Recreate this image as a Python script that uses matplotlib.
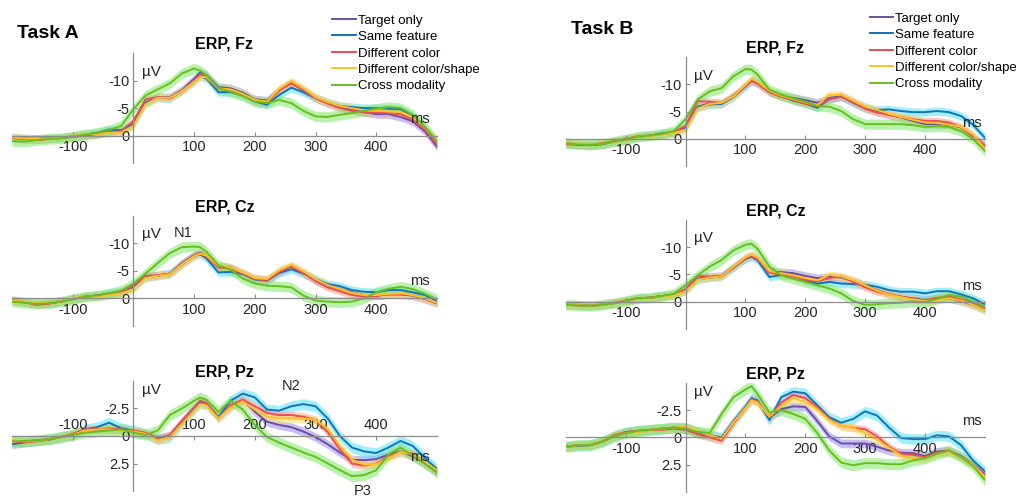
"""
ERP waveforms, Task A vs Task B, at Fz / Cz / Pz (negative up, MATLAB-style origin axes).
"""
import numpy as np
import matplotlib
matplotlib.use("Agg")
import matplotlib.pyplot as plt

plt.rcParams['font.family'] = ['Liberation Sans', 'DejaVu Sans']
plt.rcParams['axes.unicode_minus'] = False

# ── data ──────────────────────────────────────────────────────────────────
times = [-200, -180, -160, -140, -120, -100, -80, -60, -40, -20, 0, 20, 40, 60, 80,
         100, 110, 120, 140, 160, 180, 200, 220, 240, 260, 280, 300, 320, 340, 360,
         380, 400, 420, 440, 460, 480, 500]

conditions = ["Target only", "Same feature", "Different color",
              "Different color/shape", "Cross modality"]

# Task A, Fz
fz_a_target = [0.3, 0.5, 0.6, 0.5, 0.4, 0.1, -0.2, -0.3, -0.7, -0.9, -2.1, -6.0, -7.0, -7.0, -8.3, -10.3, -11.5, -11.0, -8.8, -8.6, -7.8, -6.6, -6.4, -8.3, -9.6, -8.2, -6.9, -6.0, -5.3, -4.8, -4.3, -3.9, -3.9, -3.4, -2.6, -0.8, 2.0]
fz_a_same = [0.4, 0.6, 0.6, 0.5, 0.4, 0.2, -0.2, -0.5, -1.1, -1.0, -2.0, -5.9, -6.9, -6.8, -8.1, -9.8, -10.8, -10.4, -7.9, -7.9, -7.3, -6.2, -5.6, -7.4, -8.7, -7.9, -6.8, -5.9, -5.4, -5.2, -5.0, -5.0, -4.9, -4.8, -3.6, -1.6, 1.2]
fz_a_color = [0.4, 0.6, 0.8, 0.6, 0.4, 0.2, 0.0, -0.3, -0.6, -0.8, -2.7, -6.6, -7.0, -6.8, -8.2, -10.0, -11.0, -10.7, -8.5, -8.3, -7.5, -6.4, -6.0, -8.2, -9.5, -8.3, -6.8, -5.8, -5.0, -4.5, -4.2, -4.2, -4.1, -3.9, -2.9, -1.1, 1.6]
fz_a_shape = [0.3, 0.5, 0.6, 0.5, 0.4, 0.1, -0.3, -0.3, -0.5, -0.6, -1.8, -5.7, -6.9, -6.9, -8.1, -9.8, -10.7, -10.6, -8.6, -8.4, -7.6, -6.5, -6.2, -8.5, -9.9, -8.6, -7.0, -6.1, -5.4, -5.0, -4.6, -4.5, -4.4, -4.3, -3.4, -1.6, 1.0]
fz_a_cross = [1.0, 1.1, 0.8, 0.6, 0.5, 0.2, -0.2, -0.5, -1.0, -1.8, -4.8, -7.3, -8.4, -9.5, -11.3, -12.2, -11.8, -11.0, -8.6, -8.0, -7.2, -6.2, -5.9, -6.5, -5.9, -4.5, -3.5, -3.4, -3.8, -4.1, -4.5, -4.9, -5.2, -5.0, -3.8, -1.6, 1.0]

# Task A, Cz
cz_a_target = [0.3, 0.6, 1.0, 0.9, 0.6, 0.1, -0.3, -0.5, -0.8, -1.1, -2.0, -3.9, -4.2, -4.5, -6.4, -7.9, -8.3, -7.7, -5.8, -5.6, -4.6, -3.6, -3.3, -4.8, -5.8, -4.6, -3.3, -2.3, -1.7, -1.1, -0.6, -0.5, -0.7, -0.7, -0.5, 0.1, 0.9]
cz_a_same = [0.4, 0.7, 1.0, 0.8, 0.5, 0.1, -0.3, -0.5, -0.9, -1.2, -2.0, -3.8, -4.1, -4.5, -6.2, -7.7, -8.0, -7.3, -4.7, -4.8, -4.4, -3.4, -3.2, -4.6, -5.3, -4.5, -3.5, -2.6, -2.2, -1.5, -1.2, -1.1, -1.5, -1.5, -1.1, -0.6, 0.5]
cz_a_color = [0.4, 0.7, 1.2, 1.0, 0.6, 0.1, -0.3, -0.5, -0.7, -1.0, -2.4, -4.1, -4.2, -4.4, -6.2, -7.8, -8.2, -7.6, -5.6, -5.4, -4.5, -3.5, -3.3, -4.8, -5.8, -4.6, -3.1, -2.0, -1.3, -0.6, -0.3, -0.4, -0.8, -0.8, -0.6, 0.1, 0.9]
cz_a_shape = [0.3, 0.6, 0.9, 0.8, 0.5, 0.0, -0.3, -0.4, -0.6, -0.9, -1.7, -3.7, -4.1, -4.4, -6.2, -7.7, -8.1, -7.8, -5.9, -5.6, -4.7, -3.7, -3.5, -5.1, -6.1, -4.9, -3.5, -2.4, -1.7, -1.0, -0.6, -0.6, -0.8, -0.9, -0.6, 0.0, 0.8]
cz_a_cross = [0.6, 0.8, 1.0, 0.9, 0.6, 0.2, -0.3, -0.5, -0.9, -1.4, -2.7, -4.5, -6.4, -8.2, -9.3, -9.4, -9.3, -8.5, -6.0, -5.2, -3.6, -2.7, -2.3, -2.2, -2.0, -0.5, 0.4, 0.6, 0.7, 0.6, 0.0, -1.1, -1.7, -2.1, -1.7, -0.8, 0.2]

# Task A, Pz
pz_a_target = [0.75, 0.6, 0.45, 0.35, 0.1, -0.1, -0.6, -0.6, -0.6, -0.6, -0.4, -0.2, 0.3, 0.0, -1.3, -2.5, -3.1, -3.0, -1.7, -2.7, -3.3, -2.2, -1.3, -1.0, -0.8, -0.4, 0.1, 0.75, 1.5, 2.15, 2.2, 2.1, 1.7, 1.4, 1.85, 2.5, 3.3]
pz_a_same = [0.45, 0.5, 0.4, 0.3, 0.1, -0.1, -0.6, -0.8, -1.2, -0.7, -0.5, -0.2, 0.3, 0.1, -1.2, -2.4, -3.0, -2.9, -1.7, -3.2, -3.85, -3.5, -2.4, -2.3, -2.7, -2.9, -2.7, -1.6, 0.0, 1.05, 1.4, 1.55, 1.05, 0.45, 0.9, 2.0, 3.0]
pz_a_color = [0.45, 0.55, 0.5, 0.3, 0.1, -0.2, -0.6, -0.6, -0.7, -0.6, -0.5, -0.3, 0.2, -0.1, -1.4, -2.6, -3.2, -3.0, -1.6, -2.8, -3.3, -2.7, -2.1, -1.9, -1.9, -1.75, -1.45, -0.35, 1.2, 2.5, 2.7, 2.5, 1.85, 1.45, 1.6, 2.4, 3.2]
pz_a_shape = [0.3, 0.5, 0.45, 0.3, 0.1, -0.1, -0.5, -0.6, -0.6, -0.5, -0.4, -0.2, 0.4, 0.1, -1.1, -2.3, -2.9, -2.8, -1.6, -2.6, -3.15, -2.4, -1.75, -1.6, -1.6, -1.6, -1.45, -0.65, 0.9, 2.15, 2.6, 2.55, 2.0, 1.45, 1.7, 2.4, 3.1]
pz_a_cross = [0.5, 0.45, 0.4, 0.3, 0.1, -0.1, -0.3, -0.4, -0.5, -0.6, -0.3, -0.1, -0.5, -1.9, -2.5, -3.2, -3.5, -3.3, -2.2, -3.2, -2.4, -1.0, 0.1, 0.6, 1.05, 1.5, 1.9, 2.5, 3.1, 3.65, 3.55, 3.1, 1.7, 1.05, 1.8, 2.5, 3.3]

# Task B, Fz
fz_b_target = [0.8, 1.0, 1.15, 1.0, 0.5, 0.2, -0.4, -0.55, -0.85, -1.15, -2.0, -5.9, -6.5, -6.5, -7.9, -9.8, -10.8, -10.3, -8.7, -7.8, -7.5, -7.1, -6.6, -7.5, -7.8, -6.8, -5.8, -5.1, -4.4, -3.9, -3.3, -2.7, -2.7, -2.6, -2.1, -0.5, 1.3]
fz_b_same = [0.9, 1.0, 1.1, 0.9, 0.5, 0.1, -0.4, -0.6, -1.0, -1.3, -2.1, -5.8, -6.3, -6.4, -7.7, -9.6, -10.6, -10.3, -8.6, -7.8, -7.0, -6.5, -5.7, -7.3, -7.8, -6.6, -5.6, -5.3, -5.4, -5.1, -4.9, -4.9, -5.1, -4.9, -4.2, -2.6, -0.2]
fz_b_color = [1.0, 1.1, 1.1, 0.8, 0.4, 0.0, -0.5, -0.6, -0.9, -1.2, -2.4, -6.9, -6.8, -6.6, -7.9, -9.7, -10.6, -10.1, -8.5, -7.7, -7.1, -6.4, -6.0, -7.3, -7.7, -6.7, -5.5, -4.8, -4.4, -4.0, -3.6, -3.3, -3.3, -3.0, -2.1, -0.6, 1.2]
fz_b_shape = [0.8, 0.9, 1.0, 0.9, 0.5, 0.2, -0.4, -0.5, -0.8, -1.1, -1.7, -5.6, -6.4, -6.6, -7.8, -9.9, -11.0, -10.5, -8.8, -7.9, -7.3, -6.7, -6.2, -8.1, -8.1, -7.0, -5.9, -5.3, -4.6, -4.0, -3.5, -3.0, -2.9, -2.6, -2.2, -0.8, 1.8]
fz_b_cross = [0.8, 1.0, 1.1, 0.9, 0.5, 0.1, -0.4, -0.6, -0.9, -1.4, -3.6, -7.2, -8.7, -9.3, -11.5, -12.8, -12.7, -11.8, -9.0, -8.1, -7.4, -6.8, -6.0, -5.9, -5.1, -3.6, -2.7, -2.7, -2.7, -2.7, -2.5, -2.2, -2.3, -2.2, -1.4, 0.0, 2.2]

# Task B, Cz
cz_b_target = [0.6, 0.6, 0.8, 0.6, 0.3, -0.1, -0.6, -0.7, -1.0, -1.2, -2.1, -4.2, -4.5, -4.7, -6.4, -8.0, -8.5, -7.9, -5.5, -5.4, -5.2, -4.7, -4.3, -4.6, -4.4, -3.8, -3.0, -2.1, -1.4, -0.9, -0.6, -0.3, -0.6, -0.6, -0.1, 0.6, 1.5]
cz_b_same = [0.6, 0.6, 0.8, 0.6, 0.3, -0.1, -0.6, -0.7, -1.0, -1.3, -2.1, -4.1, -4.4, -4.6, -6.2, -7.8, -8.2, -7.6, -4.5, -4.9, -4.8, -3.9, -3.3, -3.6, -3.3, -3.2, -3.1, -2.7, -2.1, -1.8, -1.8, -1.5, -1.9, -1.9, -1.3, -0.6, 0.5]
cz_b_color = [0.6, 0.7, 0.8, 0.5, 0.2, -0.2, -0.6, -0.7, -1.0, -1.2, -2.3, -4.7, -4.6, -4.7, -6.3, -7.9, -8.4, -7.8, -5.3, -5.0, -4.6, -4.0, -3.7, -4.3, -4.6, -3.6, -2.6, -1.8, -1.3, -0.9, -0.4, -0.2, -0.7, -0.9, -0.4, 0.3, 1.2]
cz_b_shape = [0.6, 0.6, 0.8, 0.6, 0.3, -0.1, -0.5, -0.7, -0.9, -1.1, -1.9, -4.0, -4.4, -4.6, -6.4, -8.1, -8.6, -8.1, -5.6, -5.2, -4.8, -4.3, -3.9, -4.9, -4.6, -3.9, -3.0, -2.0, -1.3, -0.8, -0.4, -0.1, -0.3, -0.6, -0.2, 0.6, 1.6]
cz_b_cross = [0.6, 0.7, 0.8, 0.6, 0.3, -0.1, -0.6, -0.7, -1.0, -1.4, -3.0, -4.8, -6.4, -7.6, -9.4, -10.4, -10.6, -9.7, -6.4, -4.8, -4.2, -3.6, -3.0, -2.4, -1.5, -0.1, 0.6, 0.5, 0.3, 0.2, 0.0, 0.1, -0.5, -1.2, -0.9, 0.0, 1.0]

# Task B, Pz
pz_b_target = [0.85, 0.7, 0.7, 0.4, -0.1, -0.4, -0.55, -0.7, -0.8, -0.9, -0.9, -0.5, -0.2, 0.05, -1.5, -2.8, -3.5, -3.3, -1.8, -2.6, -2.85, -2.8, -1.5, -0.1, 0.55, 0.55, 0.55, 0.85, 1.2, 1.4, 1.45, 1.7, 1.3, 1.2, 1.7, 2.45, 3.4]
pz_b_same = [0.85, 0.75, 0.7, 0.4, -0.1, -0.5, -0.6, -0.7, -0.8, -0.9, -0.9, -0.5, -0.2, 0.0, -1.4, -2.8, -3.6, -3.4, -1.6, -3.7, -4.2, -4.05, -2.95, -1.85, -1.35, -1.7, -2.4, -2.0, -0.9, 0.05, 0.15, 0.15, -0.2, -0.1, 0.7, 2.1, 3.1]
pz_b_color = [0.85, 0.7, 0.7, 0.4, -0.2, -0.5, -0.6, -0.7, -0.7, -0.8, -0.7, -0.3, 0.0, 0.3, -1.3, -2.7, -3.5, -3.3, -1.9, -3.2, -3.9, -3.6, -2.8, -1.7, -1.05, -0.9, -0.75, -0.1, 0.85, 1.5, 1.6, 1.8, 1.4, 1.2, 1.8, 2.5, 3.5]
pz_b_shape = [0.85, 0.7, 0.7, 0.4, -0.1, -0.4, -0.5, -0.7, -0.8, -0.9, -1.0, -0.6, -0.2, 0.1, -1.4, -2.7, -3.4, -3.2, -1.9, -2.9, -3.6, -3.25, -2.6, -1.6, -1.05, -0.9, -0.4, 0.2, 0.95, 1.65, 1.9, 1.95, 1.5, 1.35, 1.8, 2.5, 3.6]
pz_b_cross = [0.85, 0.7, 0.7, 0.4, -0.1, -0.4, -0.6, -0.7, -0.8, -0.9, -0.8, -0.5, -0.4, -2.15, -3.7, -4.4, -4.7, -4.0, -2.3, -2.5, -2.15, -1.7, -0.4, 1.2, 2.3, 2.55, 2.35, 2.35, 2.45, 2.45, 2.1, 1.9, 1.5, 1.2, 1.8, 2.6, 3.9]

# half-width of the shaded error band (µV), per condition
sem_fz_cz = [0.75, 0.75, 0.65, 0.75, 0.95]
sem_pz = [0.4, 0.48, 0.35, 0.4, 0.5]

x_ticks = [-100, 100, 200, 300, 400]

# ── style ─────────────────────────────────────────────────────────────────
line_colors = ['#6A4FA3', '#1173BE', '#F24B55', '#FFC125', '#6ABD1E']
band_colors = ['#9D8BF2', '#55E2F6', '#F79CA3', '#FFE070', '#80E86B']
axis_gray = '#8c8c8c'
text_dark = '#262626'


def draw_panel(ax, series, sems, ylim, yticks, title, labels_above, uv_y, ms_pos):
    t = np.array(times)
    for vals, sem, bc in zip(series, sems, band_colors):
        v = np.array(vals)
        ax.fill_between(t, v - sem, v + sem, color=bc, alpha=0.55, lw=0)
    lines = []
    for vals, lc in zip(series, line_colors):
        ln, = ax.plot(t, vals, color=lc, lw=1.4)
        lines.append(ln)

    ax.set_xlim(-200, 500)
    ax.set_ylim(ylim[1], ylim[0])          # negative up
    ax.set_facecolor('none')

    ax.spines['right'].set_visible(False)
    ax.spines['left'].set_position(('data', 0))
    if labels_above:
        ax.spines['bottom'].set_visible(False)
        ax.spines['top'].set_position(('data', 0))
        ax.xaxis.set_ticks_position('top')
    else:
        ax.spines['top'].set_visible(False)
        ax.spines['bottom'].set_position(('data', 0))
    for s in ax.spines.values():
        s.set_color(axis_gray)
        s.set_linewidth(0.9)

    ax.set_xticks(x_ticks)
    ax.set_yticks(yticks)
    ax.set_yticklabels([f"{v:g}" for v in yticks])
    ax.tick_params(direction='in', length=3, width=0.8, color=axis_gray,
                   labelsize=10.5, labelcolor=text_dark, pad=3)

    ax.set_title(title, fontsize=11.5, fontweight='bold', y=1.0, pad=3, color='black')
    ax.text(14, uv_y, "µV", fontsize=11, color=text_dark, ha='left', va='center')
    ax.text(ms_pos[0], ms_pos[1], "ms", fontsize=10.5, color=text_dark,
            ha='center', va='center')
    return lines


fig = plt.figure(figsize=(10.16, 4.96), dpi=100)

panels_a = [
    ([fz_a_target, fz_a_same, fz_a_color, fz_a_shape, fz_a_cross], "ERP, Fz"),
    ([cz_a_target, cz_a_same, cz_a_color, cz_a_shape, cz_a_cross], "ERP, Cz"),
    ([pz_a_target, pz_a_same, pz_a_color, pz_a_shape, pz_a_cross], "ERP, Pz"),
]
panels_b = [
    ([fz_b_target, fz_b_same, fz_b_color, fz_b_shape, fz_b_cross], "ERP, Fz"),
    ([cz_b_target, cz_b_same, cz_b_color, cz_b_shape, cz_b_cross], "ERP, Cz"),
    ([pz_b_target, pz_b_same, pz_b_color, pz_b_shape, pz_b_cross], "ERP, Pz"),
]

bottoms_a = [0.671, 0.343, 0.010]
bottoms_b = [0.665, 0.337, 0.008]

axes_a, axes_b = [], []
for i, (series, title) in enumerate(panels_a):
    ax = fig.add_axes([0.0118, bottoms_a[i], 0.4183, 0.222])
    if i < 2:
        lines_a = draw_panel(ax, series, sem_fz_cz, (-15, 5), [-10, -5, 0], title,
                             False, -11.6, (472, -3.1))
    else:
        draw_panel(ax, series, sem_pz, (-5, 5), [-2.5, 0, 2.5], title,
                   True, -4.2, (472, 1.9))
    axes_a.append(ax)

for i, (series, title) in enumerate(panels_b):
    ax = fig.add_axes([0.557, bottoms_b[i], 0.4124, 0.220])
    if i < 2:
        draw_panel(ax, series, sem_fz_cz, (-15, 5), [-10, -5, 0], title,
                   False, -11.6, (478, -2.9))
    else:
        draw_panel(ax, series, sem_pz, (-5, 5), [-2.5, 0, 2.5], title,
                   False, -4.2, (478, -1.5))
    axes_b.append(ax)

# component labels
axes_a[1].text(82, -11.9, "N1", fontsize=10.5, color=text_dark, ha='center', va='center')
axes_a[2].text(259, -4.5, "N2", fontsize=10.5, color=text_dark, ha='center', va='center')
axes_a[2].text(377, 5.0, "P3", fontsize=10.5, color=text_dark, ha='center', va='center',
               clip_on=False)

fig.text(0.017, 1 - 33 / 496, "Task A", fontsize=14, fontweight='bold', va='center')
fig.text(0.562, 1 - 30 / 496, "Task B", fontsize=14, fontweight='bold', va='center')

for left, top in [(0.327, 0.971), (0.856, 0.975)]:
    fig.legend(lines_a, conditions, loc='upper left', bbox_to_anchor=(left, top),
               bbox_transform=fig.transFigure, frameon=False, fontsize=9.5,
               handlelength=1.8, handletextpad=0.15, labelspacing=0.32,
               borderpad=0, borderaxespad=0)

fig.savefig("out.png", dpi=100)
